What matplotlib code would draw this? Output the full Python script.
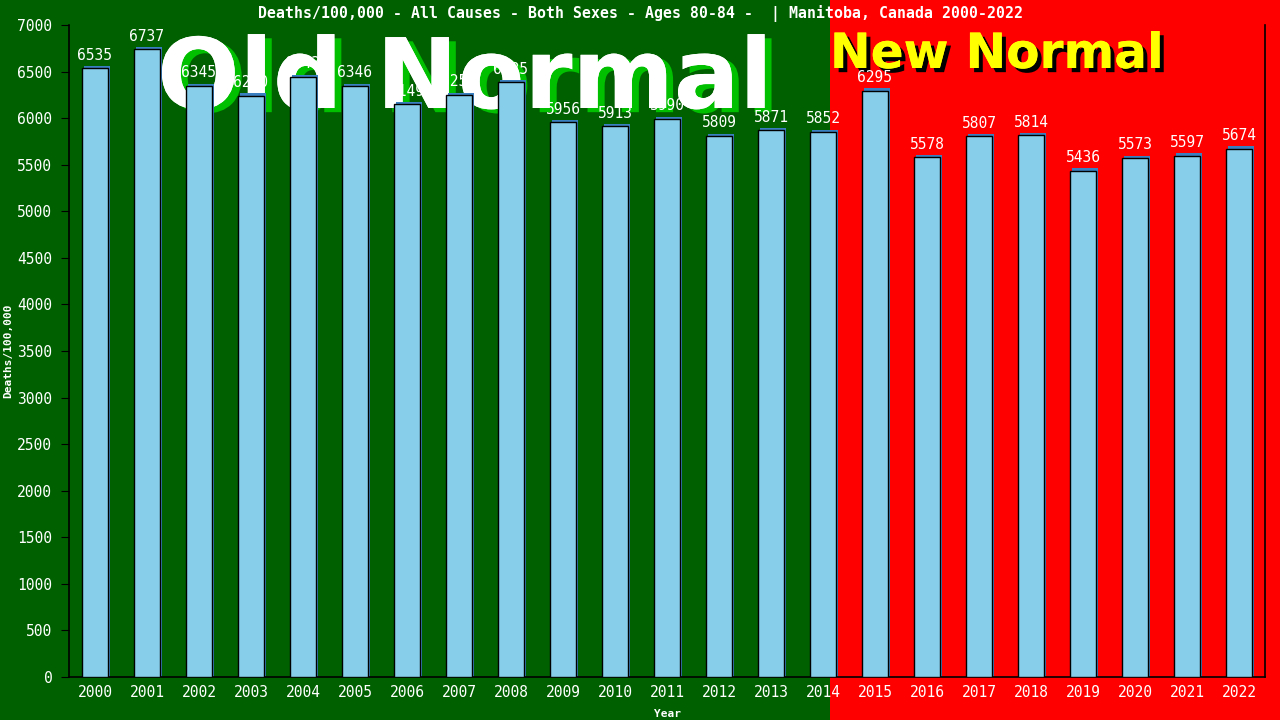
import matplotlib
matplotlib.use("Agg")
import matplotlib.pyplot as plt
import matplotlib.patheffects as pe
from matplotlib.patches import Rectangle

years = [str(y) for y in range(2000, 2023)]
deaths = [6535, 6737, 6345, 6240, 6443, 6346, 6149, 6250, 6385, 5956, 5913, 5990,
          5809, 5871, 5852, 6295, 5578, 5807, 5814, 5436, 5573, 5597, 5674]

title = "Deaths/100,000 - All Causes - Both Sexes - Ages 80-84 -  | Manitoba, Canada 2000-2022"
split_at = 14.13  # boundary between old and new normal, in bar units

green = "#006000"
red = "#ff0000"
bar_col = "#87ceeb"
mono = "DejaVu Sans Mono"

fig = plt.figure(figsize=(12.8, 7.2), dpi=100, facecolor=green)
ax = fig.add_axes([69 / 1280, 1 - 677 / 720, (1265 - 69) / 1280, (677 - 25) / 720])
ax.set_facecolor("none")
ax.set_zorder(2)

x = list(range(len(years)))
ax.set_xlim(-0.5, len(years) - 0.5)
ax.set_ylim(0, 7000)

# red "new normal" background, from the split to the right edge of the figure
x0_fig = fig.transFigure.inverted().transform(ax.transData.transform((split_at, 0)))[0]
fig.patches.append(Rectangle((x0_fig, 0), 1 - x0_fig, 1, transform=fig.transFigure,
                             facecolor=red, edgecolor="none", zorder=-1))

# big labels, behind the bars
fig.text(157 / 1280, 1 - 35 / 720, "Old Normal", fontsize=70, fontweight="bold",
         family="DejaVu Sans", color="white", ha="left", va="top", zorder=1,
         path_effects=[pe.withSimplePatchShadow(offset=(5, -3), shadow_rgbFace="#00c000", alpha=1),
                       pe.Normal()])
fig.text(830 / 1280, 1 - 30 / 720, "New Normal", fontsize=35, fontweight="bold",
         family="DejaVu Sans", color="#ffff00", ha="left", va="top", zorder=1,
         path_effects=[pe.withSimplePatchShadow(offset=(3, -3), shadow_rgbFace="black", alpha=1),
                       pe.Normal()])

# bars with a thin blue shadow
ax.bar([i + 0.04 for i in x], [d + 25 for d in deaths], width=0.5, color="#3a7fc0", zorder=2)
ax.bar(x, deaths, width=0.5, color=bar_col, edgecolor="black", linewidth=1, zorder=3)
for i, d in zip(x, deaths):
    ax.text(i, d + 60, str(d), ha="center", va="bottom", color="white",
            fontsize=10.5, family=mono, zorder=4)

ax.set_xticks(x)
ax.set_xticklabels(years, fontsize=10.5, family=mono)
ax.set_yticks(range(0, 7001, 500))
ax.set_yticklabels([str(v) for v in range(0, 7001, 500)], fontsize=10.5, family=mono)
ax.tick_params(axis="x", length=0, pad=6, labelcolor="white")
ax.tick_params(axis="y", length=6, color="black", direction="out", pad=6, labelcolor="white")

for side in ["left", "bottom", "right"]:
    ax.spines[side].set_color("black")
    ax.spines[side].set_linewidth(1.2)
ax.spines["top"].set_visible(False)

ax.set_xlabel("Year", color="white", fontsize=8, fontweight="bold", family=mono, labelpad=6)
ax.set_ylabel("Deaths/100,000", color="white", fontsize=8, fontweight="bold", family=mono)
ax.yaxis.set_label_coords(-0.047, 0.5)

fig.text(0.5, 1 - 13 / 720, title, color="white", fontsize=10.7, fontweight="bold",
         family=mono, ha="center", va="center")

fig.savefig("out.png", dpi=100, facecolor=fig.get_facecolor())
